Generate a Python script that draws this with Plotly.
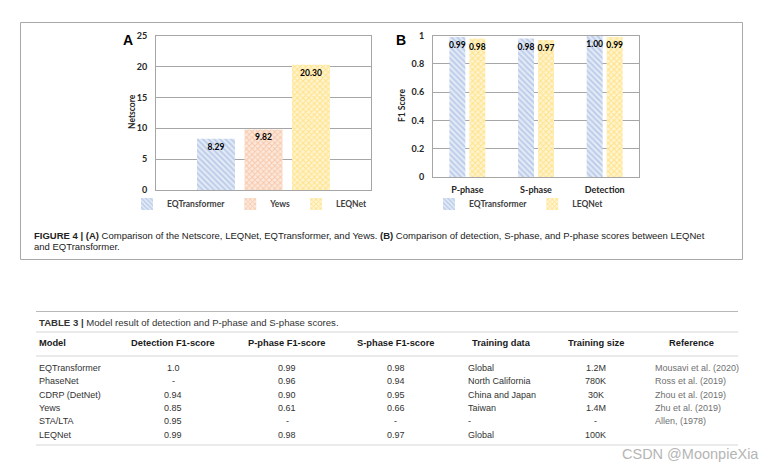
import plotly.graph_objects as go

W, H = 771, 471

# ---------------- data ----------------
netscore_models = ["EQTransformer", "Yews", "LEQNet"]
netscore_values = [8.29, 9.82, 20.30]

f1_phases = ["P-phase", "S-phase", "Detection"]
f1_eqtransformer = [0.99, 0.98, 1.00]
f1_leqnet = [0.98, 0.97, 0.99]

table_header = ["Model", "Detection F1-score", "P-phase F1-score", "S-phase F1-score",
                "Training data", "Training size", "Reference"]
table_model = ["EQTransformer", "PhaseNet", "CDRP (DetNet)", "Yews", "STA/LTA", "LEQNet"]
table_detection = ["1.0", "-", "0.94", "0.85", "0.95", "0.99"]
table_p_phase = ["0.99", "0.96", "0.90", "0.61", "-", "0.98"]
table_s_phase = ["0.98", "0.94", "0.95", "0.66", "-", "0.97"]
table_training_data = ["Global", "North California", "China and Japan", "Taiwan", "-", "Global"]
table_training_size = ["1.2M", "780K", "30K", "1.4M", "-", "100K"]
table_reference = ["Mousavi et al. (2020)", "Ross et al. (2019)", "Zhou et al. (2019)",
                   "Zhu et al. (2019)", "Allen, (1978)", ""]

# ---------------- styles ----------------
CHART = "Lato, 'Open Sans', sans-serif"
SANS = "Liberation Sans, Arial, Helvetica, sans-serif"
styles = {
    "EQTransformer": dict(fg="#8eaadb", bg="#e3eaf6", shape="\\"),
    "Yews": dict(fg="#f2a877", bg="#fce8dc", shape="x"),
    "LEQNet": dict(fg="#ffcf3f", bg="#fff4d1", shape="x"),
}


def px(x):
    return x / W


def py(y):
    return 1 - y / H


def bar_marker(name):
    s = styles[name]
    return dict(color=s["bg"], line=dict(width=0),
                pattern=dict(shape=s["shape"], fgcolor=s["fg"], bgcolor=s["bg"],
                             size=4, solidity=0.45))


label_font = dict(family=CHART, size=8.5, color="black", weight="bold")

fig = go.Figure()

# Panel A
for name, val in zip(netscore_models, netscore_values):
    fig.add_trace(go.Bar(
        x=["Netscore"], y=[val], name=name, marker=bar_marker(name),
        text=[f"{val:.2f}"], textposition="inside", insidetextanchor="end",
        textangle=0, textfont=label_font, xaxis="x", yaxis="y",
        legend="legend", hoverinfo="skip"))

# Panel B
for name, vals in [("EQTransformer", f1_eqtransformer), ("LEQNet", f1_leqnet)]:
    fig.add_trace(go.Bar(
        x=f1_phases, y=vals, name=name, marker=bar_marker(name),
        text=[f"{v:.2f}" for v in vals], textposition="inside", insidetextanchor="end",
        textangle=0, textfont=label_font, xaxis="x2", yaxis="y2",
        legend="legend2", hoverinfo="skip"))

axis_line = "#a6a6a6"
tick_font = dict(family=CHART, size=9, color="#262626", weight="bold")
legend_font = dict(family=CHART, size=8.5, color="#404040", weight="bold")

fig.update_layout(
    width=W, height=H, margin=dict(l=0, r=0, t=0, b=0, autoexpand=False),
    paper_bgcolor="white", plot_bgcolor="white",
    barmode="group", bargap=0.418, bargroupgap=0.2,
    uniformtext=dict(minsize=8.5, mode="show"),
    xaxis=dict(domain=[px(156), px(371)], range=[-0.439, 0.439], showticklabels=False,
               showline=True, mirror=True, linecolor=axis_line, ticks="", showgrid=False,
               automargin=False),
    yaxis=dict(domain=[py(190), py(35.7)], range=[0, 25], dtick=5, showgrid=True,
               gridcolor=axis_line, showline=True, mirror=True, linecolor=axis_line,
               tickfont=tick_font, ticks="", ticklabelstandoff=6, zeroline=False,
               automargin=False),
    xaxis2=dict(domain=[px(433), px(639)], showline=True, mirror=True, linecolor=axis_line,
                ticks="", tickfont=tick_font, anchor="y2", ticklabelstandoff=4,
                automargin=False),
    yaxis2=dict(domain=[py(177), py(35.7)], range=[0, 1], dtick=0.2, showgrid=True,
                gridcolor=axis_line, showline=True, mirror=True, linecolor=axis_line,
                tickfont=tick_font, ticks="", anchor="x2", ticklabelstandoff=6,
                zeroline=False, automargin=False),
    legend=dict(orientation="h", x=px(250), xanchor="center", y=py(204), yanchor="middle",
                font=legend_font, itemwidth=30, bgcolor="rgba(0,0,0,0)"),
    legend2=dict(orientation="h", x=px(519), xanchor="center", y=py(204), yanchor="middle",
                 font=legend_font, itemwidth=30, bgcolor="rgba(0,0,0,0)"),
    showlegend=True,
)

ann = []


def add_text(text, x, y, font, xanchor="center", yanchor="middle", angle=0):
    ann.append(dict(text=text, x=px(x), y=py(y), xref="paper", yref="paper",
                    xanchor=xanchor, yanchor=yanchor, textangle=angle,
                    showarrow=False, font=font))


add_text("<b>A</b>", 128, 40, dict(family=SANS, size=14, color="black"))
add_text("<b>B</b>", 401, 40, dict(family=SANS, size=14, color="black"))
add_text("<b>Netscore</b>", 132, 112, dict(family=CHART, size=8.5, color="#262626"), angle=-90)
add_text("<b>F1 Score</b>", 402, 106, dict(family=CHART, size=8.5, color="#262626"), angle=-90)

caption_font = dict(family=SANS, size=9.5, color="#222222")
add_text("<b>FIGURE 4 | (A)</b> Comparison of the Netscore, LEQNet, EQTransformer, and Yews. "
         "<b>(B)</b> Comparison of detection, S-phase, and P-phase scores between LEQNet",
         32, 235, caption_font, xanchor="left")
add_text("and EQTransformer.", 32, 246.5, caption_font, xanchor="left")

add_text("<b>TABLE 3 |</b> Model result of detection and P-phase and S-phase scores.",
         37, 322, dict(family=SANS, size=9.6, color="#333333"), xanchor="left")

# table cells (column anchor positions are layout, values come from the lists above)
columns = [table_model, table_detection, table_p_phase, table_s_phase,
           table_training_data, table_training_size, table_reference]
header_pos = [(37, "left"), (173, "center"), (287, "center"), (396, "center"),
              (501.5, "center"), (595.5, "center"), (691, "center")]
cell_pos = [(37, "left"), (173, "center"), (287, "center"), (396, "center"),
            (466, "left"), (595.5, "center"), (653, "left")]
cell_colors = ["#333333"] * 6 + ["#707070"]
header_font = dict(family=SANS, size=9.3, color="#1a1a1a")
for (hx, ha), h in zip(header_pos, table_header):
    add_text(f"<b>{h}</b>", hx, 343, header_font, xanchor=ha)
for ci, (col, (cx, ca)) in enumerate(zip(columns, cell_pos)):
    for ri, v in enumerate(col):
        if v:
            add_text(v, cx, 368 + 13.3 * ri,
                     dict(family=SANS, size=9, color=cell_colors[ci]), xanchor=ca)

add_text("CSDN @MoonpieXia", 761, 454, dict(family=SANS, size=14.5, color="#b5b5b5"),
         xanchor="right")
fig.update_layout(annotations=ann)

shapes = [
    dict(type="rect", xref="paper", yref="paper", x0=px(20.5), x1=px(742.5),
         y0=py(259.5), y1=py(22.5), line=dict(color="#a8a8a8", width=1)),
]
for yy, col in [(311.5, "#b8b8b8"), (332, "#d5d5d5"), (356, "#d5d5d5"), (445, "#d5d5d5")]:
    shapes.append(dict(type="line", xref="paper", yref="paper", x0=px(36), x1=px(738),
                       y0=py(yy), y1=py(yy), line=dict(color=col, width=1)))
fig.update_layout(shapes=shapes)

fig.write_html("out.html", config={"displayModeBar": False},
               post_script="document.body.style.margin='0';document.body.style.overflow='hidden';")
